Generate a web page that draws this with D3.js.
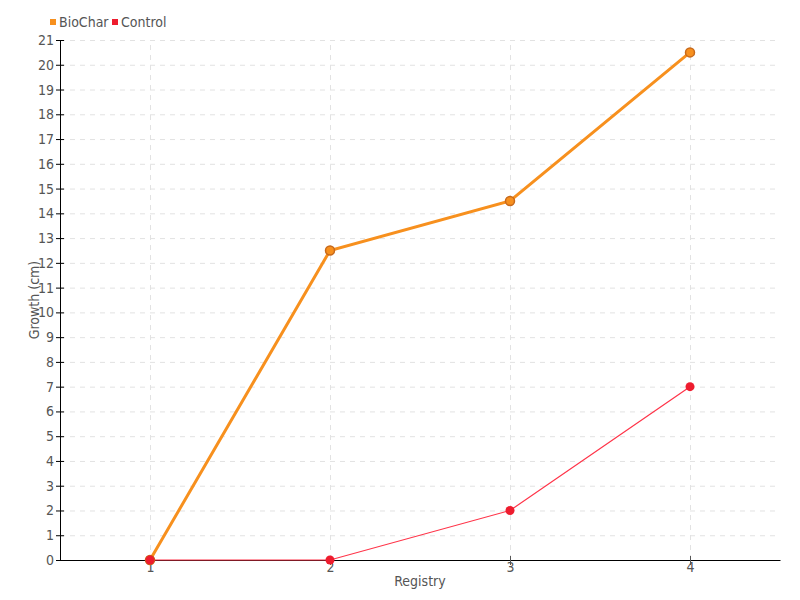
<!DOCTYPE html>
<html>
<head>
<meta charset="utf-8">
<script src="https://cdn.jsdelivr.net/npm/d3@7"></script>
<style>
  body { margin: 0; background: #fff; }
  svg text { font-family: "DejaVu Sans", sans-serif; font-stretch: condensed; fill: #555; }
  .grid line { stroke: #e2e2e2; stroke-dasharray: 5,5; }
  .grid path { display: none; }
</style>
</head>
<body>
<svg id="chart" width="800" height="600"></svg>
<script>
"use strict";

var registry = [1, 2, 3, 4];
var biochar = [0, 12.5, 14.5, 20.5];
var control = [0, 0, 2, 7];
var yTicks = d3.range(0, 22);

var width = 800;
var height = 600;
var margin = { top: 40, right: 20, bottom: 40, left: 60 };

var svg = d3.select("#chart");

var x = d3.scaleLinear().domain([0.5, 4.5]).range([margin.left, width - margin.right]);
var y = d3.scaleLinear().domain([0, 21]).range([height - margin.bottom, margin.top]);

// grid
svg.append("g").attr("class", "grid")
  .attr("transform", "translate(" + margin.left + ",0)")
  .call(d3.axisLeft(y).tickValues(yTicks).tickSize(-(width - margin.left - margin.right)).tickFormat(""));
svg.append("g").attr("class", "grid")
  .attr("transform", "translate(0," + (height - margin.bottom) + ")")
  .call(d3.axisBottom(x).tickValues(registry).tickSize(-(height - margin.top - margin.bottom)).tickFormat(""));

// axes
var yAxis = svg.append("g")
  .attr("transform", "translate(" + margin.left + ",0)")
  .call(d3.axisLeft(y).tickValues(yTicks).tickSize(4).tickSizeOuter(0));
yAxis.selectAll(".tick line").attr("x1", 4).attr("stroke", "#000");
yAxis.select(".domain").attr("stroke", "#000");
yAxis.selectAll("text").style("font-size", "14px").attr("x", -6);

var xAxis = svg.append("g")
  .attr("transform", "translate(0," + (height - margin.bottom) + ")")
  .call(d3.axisBottom(x).tickValues(registry).tickFormat(d3.format("d")).tickSize(5).tickSizeOuter(0));
xAxis.selectAll(".tick line").attr("y1", -4).attr("stroke", "#555");
xAxis.select(".domain").attr("stroke", "#000");
xAxis.selectAll("text").style("font-size", "14px").attr("y", 2);

// axis labels
svg.append("text").attr("x", (margin.left + width - margin.right) / 2).attr("y", 586)
  .attr("text-anchor", "middle").style("font-size", "14px").text("Registry");
svg.append("text").attr("transform", "translate(39,300) rotate(-90)")
  .attr("text-anchor", "middle").style("font-size", "14px").text("Growth (cm)");

var line = d3.line().x(function (d, i) { return x(registry[i]); }).y(function (d) { return y(d); });

// control
svg.append("path").datum(control).attr("d", line)
  .attr("fill", "none").attr("stroke", "#ff3348").attr("stroke-width", 1.2);

// biochar
svg.append("path").datum(biochar).attr("d", line)
  .attr("fill", "none").attr("stroke", "#f7901e").attr("stroke-width", 3);
svg.selectAll(".bio").data(biochar).enter().append("circle")
  .attr("cx", function (d, i) { return x(registry[i]); })
  .attr("cy", function (d) { return y(d); })
  .attr("r", 4.5).attr("fill", "#f7901e").attr("stroke", "#c8691a").attr("stroke-width", 1.5);

svg.selectAll(".ctl").data(control).enter().append("circle")
  .attr("cx", function (d, i) { return x(registry[i]); })
  .attr("cy", function (d) { return y(d); })
  .attr("r", 4.5).attr("fill", "#ee1c2e");

// legend
var legend = [{ name: "BioChar", color: "#f7901e", x: 50 }, { name: "Control", color: "#ee1c2e", x: 112 }];
legend.forEach(function (l) {
  svg.append("rect").attr("x", l.x).attr("y", 19).attr("width", 6).attr("height", 6).attr("fill", l.color);
  svg.append("text").attr("x", l.x + 9).attr("y", 27).style("font-size", "14px").text(l.name);
});
</script>
</body>
</html>
